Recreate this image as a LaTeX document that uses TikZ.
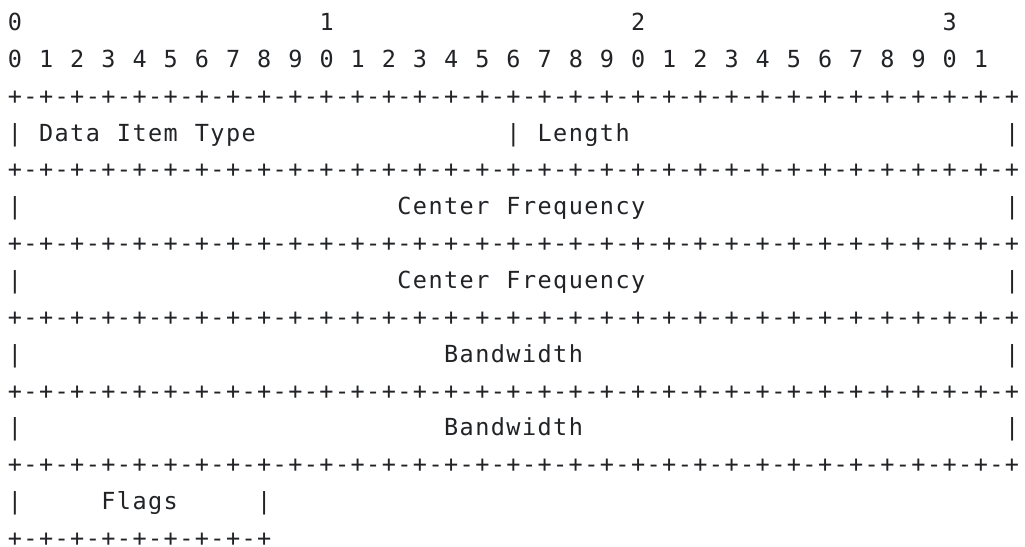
\documentclass[tikz,border=0pt]{standalone}
\usepackage{fontspec}
\newfontfamily\asciifont{DejaVu Sans Mono}
\definecolor{ink}{RGB}{33,35,38}
\newlength\pitch
\setlength\pitch{15.58pt}
\ExplSyntaxOn
\NewDocumentCommand\monostr{m}{\str_map_inline:nn {#1} {\hbox to \pitch{\hss ##1\hss}}}
\NewDocumentCommand\sepline{m}{\prg_replicate:nn {#1} {\monostr{+-}}\monostr{+}}
\ExplSyntaxOff
\tikzset{asc/.style={anchor=base west, inner sep=0pt, outer sep=0pt, text=ink,
  font=\asciifont\fontsize{23.5}{26}\selectfont}}
\begin{document}
\begin{tikzpicture}
\path[use as bounding box, fill=white] (0pt,0pt) rectangle (1025pt,-546pt);
\begin{scope}[shift={(7.2pt,-30.5pt)}, x=15.58pt, y=-36.86pt]
\node[asc] (h0a) at (0,0) {\monostr{0}};
\node[asc] (h0b) at (20,0) {\monostr{1}};
\node[asc] (h0c) at (40,0) {\monostr{2}};
\node[asc] (h0d) at (60,0) {\monostr{3}};
\node[asc] (h1) at (0,1) {\monostr{0 1 2 3 4 5 6 7 8 9 0 1 2 3 4 5 6 7 8 9 0 1 2 3 4 5 6 7 8 9 0 1}};
\node[asc] (s2) at (0,2) {\sepline{32}};
\node[asc] (r3a) at (0,3) {\monostr{| Data Item Type}};
\node[asc] (r3b) at (32,3) {\monostr{| Length}};
\node[asc] (r3c) at (64,3) {\monostr{|}};
\node[asc] (s4) at (0,4) {\sepline{32}};
\node[asc] (r5a) at (0,5) {\monostr{|}};
\node[asc] (r5b) at (25,5) {\monostr{Center Frequency}};
\node[asc] (r5c) at (64,5) {\monostr{|}};
\node[asc] (s6) at (0,6) {\sepline{32}};
\node[asc] (r7a) at (0,7) {\monostr{|}};
\node[asc] (r7b) at (25,7) {\monostr{Center Frequency}};
\node[asc] (r7c) at (64,7) {\monostr{|}};
\node[asc] (s8) at (0,8) {\sepline{32}};
\node[asc] (r9a) at (0,9) {\monostr{|}};
\node[asc] (r9b) at (28,9) {\monostr{Bandwidth}};
\node[asc] (r9c) at (64,9) {\monostr{|}};
\node[asc] (s10) at (0,10) {\sepline{32}};
\node[asc] (r11a) at (0,11) {\monostr{|}};
\node[asc] (r11b) at (28,11) {\monostr{Bandwidth}};
\node[asc] (r11c) at (64,11) {\monostr{|}};
\node[asc] (s12) at (0,12) {\sepline{32}};
\node[asc] (r13a) at (0,13) {\monostr{|}};
\node[asc] (r13b) at (6,13) {\monostr{Flags}};
\node[asc] (r13c) at (16,13) {\monostr{|}};
\node[asc] (s14) at (0,14) {\sepline{8}};
\end{scope}
\end{tikzpicture}
\end{document}
